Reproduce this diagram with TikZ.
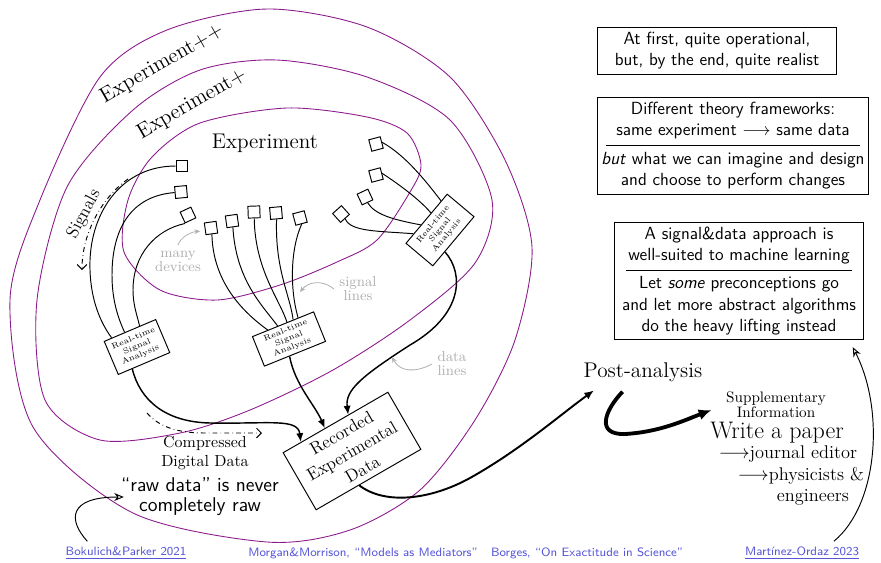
\documentclass[tikz,border=0pt]{standalone}
\usepackage{fontspec}
\usepackage{xcolor}
\usetikzlibrary{arrows.meta}

\begin{document}
\begin{tikzpicture}[x=0.22mm,y=-0.22mm,
  device/.style={draw,line width=0.6pt,minimum size=2.6mm,inner sep=0pt},
  rtsa/.style={draw,line width=0.6pt,align=center,inner sep=0pt,font=\fontsize{5}{5.6}\selectfont},
  fence/.style={draw=expviolet,line width=0.55pt},
  wire/.style={line width=0.6pt},
  dataline/.style={line width=0.9pt,-{Latex[length=5.5pt,width=4.5pt]}},
  flow/.style={dash dot,line width=0.6pt,-{Straight Barb[length=3pt,width=6pt]}},
  hint/.style={text=hintgray,align=center,font=\fontsize{9}{8.8}\selectfont},
  hintarrow/.style={draw=hintgray,line width=0.5pt,-{Stealth[length=3.5pt,width=3pt]}},
  notebox/.style={draw,line width=0.6pt,align=center,font=\sffamily\fontsize{11}{13.2}\selectfont},
  linktext/.style={text=linkblue,font=\sffamily\fontsize{7.6}{10}\selectfont},
  big/.style={font=\fontsize{13.3}{16}\selectfont}]
\definecolor{expviolet}{HTML}{8B1A8B}
\definecolor{hintgray}{HTML}{AFAFAF}
\definecolor{linkblue}{HTML}{5555D8}
\useasboundingbox (0,0) rectangle (881,562);

\draw[fence] plot[smooth cycle] coordinates {(10,300) (40,200) (100,77) (167,30) (267,9) (367,27) (450,77) (505,160) (532,247) (515,340) (475,420) (420,490) (350,530) (267,542) (133,513) (33,427)};
\draw[fence] plot[smooth cycle] coordinates {(37,300) (67,187) (133,110) (200,70) (277,60) (367,77) (450,120) (492,200) (475,263) (410,320) (333,370) (250,410) (180,433) (100,440) (45,400)};
\draw[fence] plot[smooth cycle] coordinates {(287,108) (367,117) (407,133) (421,165) (410,192) (377,240) (337,262) (280,285) (217,300) (160,290) (124,252) (128,200) (152,157) (200,123)};

\node[big,rotate=30] (exppp) at (162,64) {Experiment++};
\node[big,rotate=30] (expp) at (192,104) {Experiment+};
\node[big] (exp) at (265,143) {Experiment};

  \foreach \dev/\px/\py/\tilt in {d1/182/166/0,d2/181/192/5,d3/188/215/25,d4/211/228/8,d5/232/221/8,d6/254/212/2,d7/276/213/5,d8/300/218/15,d9/376/144/15,d10/376/175/15,d11/365/197/25,d12/341/214/42}
  {  \node [device,rotate=\tilt] (\dev) at (\px,\py) {};}

\node[rtsa,rotate=23,minimum width=12.3mm,minimum height=7.9mm] (a1) at (137,347) {Real-time\\Signal\\Analysis};
\node[rtsa,rotate=22,minimum width=14.5mm,minimum height=7mm] (a2) at (289,339) {Real-time\\Signal\\Analysis};
\node[rtsa,rotate=50,minimum width=14.1mm,minimum height=7.7mm] (a3) at (440,230) {Real-time\\Signal\\Analysis};
\node[draw,line width=0.6pt,rotate=30,minimum width=26.6mm,minimum height=14.5mm,inner sep=0pt,align=center,font=\fontsize{11}{13.1}\selectfont] (rec) at (352,451) {Recorded\\Experimental\\Data};

\draw[wire] (d1.west) .. controls (120,166) and (88,215) .. (90,270) .. controls (91,300) and (100,322) .. (a1.137);
\draw[wire] (d2.west) .. controls (130,196) and (112,230) .. (112,275) .. controls (112,300) and (118,318) .. (a1.107);
\draw[wire] (d3.south west) .. controls (155,230) and (133,255) .. (133,290) .. controls (133,305) and (137,315) .. (a1.60);
\draw[wire] (d4.south) .. controls (213,280) and (240,310) .. (a2.135);
\draw[wire] (d5.south) .. controls (236,280) and (262,305) .. (a2.109);
\draw[wire] (d6.south) .. controls (255,270) and (280,300) .. (a2.75);
\draw[wire] (d7.south) .. controls (275,270) and (290,295) .. (a2.56);
\draw[wire] (d8.south) .. controls (290,250) and (290,290) .. (a2.45);
\draw[wire] (d9.east) .. controls (405,155) and (425,180) .. (a3.38);
\draw[wire] (d10.east) .. controls (400,185) and (420,200) .. (a3.68);
\draw[wire] (d11.south) .. controls (375,215) and (395,220) .. (a3.115);
\draw[wire] (d12.south) .. controls (350,232) and (380,231) .. (a3.138);

\draw[dataline] (a1.235) .. controls (140,400) and (165,422) .. (210,423) .. controls (270,424) and (298,418) .. (rec.140);
\draw[dataline] (a2.250) .. controls (295,385) and (315,405) .. (rec.110);
\draw[dataline] (a3.233) .. controls (465,275) and (462,315) .. (410,345) .. controls (362,376) and (345,390) .. (rec.66);

\coordinate (sigA) at (128,179);
\coordinate (sigB) at (82,270);
\draw[flow] (sigA) .. controls (105,195) and (82,230) .. (sigB);
\node[rotate=62,font=\fontsize{11}{13}\selectfont] (siglbl) at (84,214) {Signals};

\coordinate (cdA) at (147,413);
\coordinate (cdB) at (262,433);
\draw[flow] (cdA) .. controls (160,428) and (180,433) .. (205,433) -- (cdB);
\node[align=center,font=\fontsize{10}{12}\selectfont] (cdd) at (205,453) {Compressed\\Digital Data};

\node[hint] (manydev) at (178,261) {many\\devices};
\draw[hintarrow] (manydev.north) .. controls (180,238) and (190,232) .. ([xshift=-1mm,yshift=-0.5mm]d4.west);
\node[hint] (siglines) at (358,289) {signal\\lines};
\coordinate (sigwire) at (300,292);
\draw[hintarrow] (siglines.west) .. controls (322,279) and (308,282) .. (sigwire);
\node[hint] (datalines) at (452,364) {data\\lines};
\coordinate (datawire) at (392,357);
\draw[hintarrow] (datalines.west) .. controls (415,373) and (400,372) .. (datawire);

\node[align=center,inner sep=1pt,font=\sffamily\fontsize{12.5}{12.5}\selectfont] (raw) at (200,497) {``raw data'' is never\\completely raw};

\node[notebox,inner xsep=11pt,inner ysep=3pt] (box1) at (717,51) {At first, quite operational,\\but, by the end, quite realist};
\node[notebox,inner xsep=5.5pt,inner ysep=1.5pt] (box2) at (733,146) {\begin{tabular}{@{\hspace{-2.8pt}}c@{\hspace{-2.8pt}}}
Different theory frameworks:\\ same experiment $\longrightarrow$ same data\\[2pt] \hline
\rule{0pt}{11.5pt}\textit{but} what we can imagine and design\\ and choose to perform changes
\end{tabular}};
\node[notebox,inner xsep=7pt,inner ysep=1.5pt] (box3) at (739,281) {\begin{tabular}{@{\hspace{-2.5pt}}c@{\hspace{-2.5pt}}}
A signal\&data approach is\\ well-suited to machine learning\\[2pt] \hline
\rule{0pt}{11.5pt}Let \textit{some} preconceptions go\\ and let more abstract algorithms\\ do the heavy lifting instead
\end{tabular}};

\node[big] (post) at (643,372) {Post-analysis};
\node[align=center,font=\fontsize{9.5}{9.5}\selectfont] (supp) at (776,405) {Supplementary\\Information};
\node[font=\fontsize{15}{18}\selectfont] (paper) at (777,433) {Write a paper};
\node[font=\fontsize{11.5}{14}\selectfont] (ed1) at (788,454) {$\longrightarrow$journal editor};
\node[font=\fontsize{11.5}{14}\selectfont] (ed2) at (801,476) {$\longrightarrow$physicists \&};
\node[font=\fontsize{11.5}{14}\selectfont] (ed3) at (813,497) {engineers};

\draw[line width=1.2pt,-{Latex[length=6pt,width=5pt]}] (rec.252) .. controls (385,505) and (430,500) .. (470,478) .. controls (520,450) and (560,415) .. ([xshift=3.5mm,yshift=-0.7mm]post.south west);
\draw[line width=2.4pt,-{Latex[length=8pt,width=7pt]}] ([xshift=-4.5mm,yshift=-1mm]post.south) .. controls (605,410) and (595,435) .. (625,434) .. controls (660,432) and (685,420) .. ([xshift=-2mm,yshift=-1.1mm]supp.west);

\node[linktext] (bk) at (126,553) {\underline{Bokulich\&Parker 2021}};
\node[linktext] (mm) at (363,553) {Morgan\&Morrison, ``Models as Mediators''};
\node[linktext] (bo) at (587,553) {Borges, ``On Exactitude in Science''};
\node[linktext] (mo) at (802,553) {\underline{Martínez-Ordaz 2023}};

\draw[line width=0.6pt,-{Stealth[open,length=6pt,width=5pt]}] ([xshift=6mm]bk.north west) .. controls (68,520) and (68,497) .. ([xshift=1mm]raw.west);
\draw[line width=0.6pt,-{Stealth[open,length=6pt,width=5pt]}] ([xshift=7mm]mo.north) .. controls (878,505) and (885,410) .. ([xshift=-2.4mm,yshift=-1.5mm]box3.south east);
\end{tikzpicture}
\end{document}
